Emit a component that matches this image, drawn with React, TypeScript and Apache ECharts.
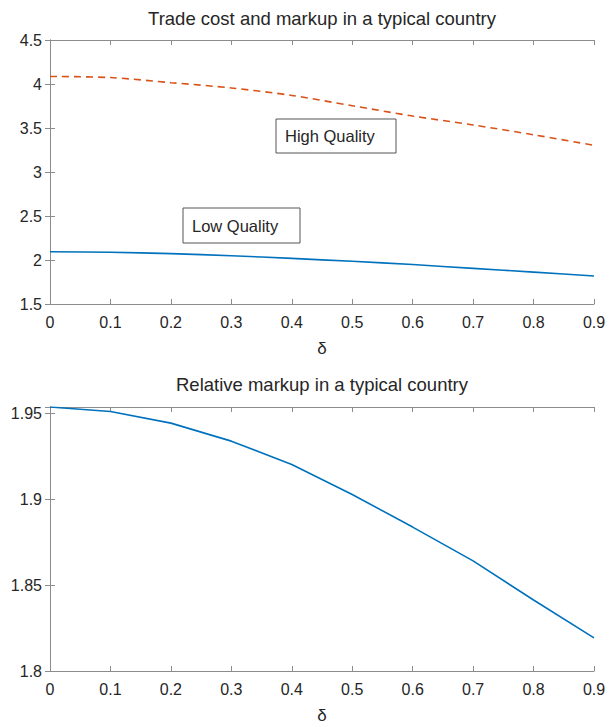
import React, { useEffect, useRef } from "react";
import * as echarts from "echarts";

const delta = [0, 0.1, 0.2, 0.3, 0.4, 0.5, 0.6, 0.7, 0.8, 0.9];
const highQuality = [4.086, 4.073, 4.015, 3.955, 3.87, 3.753, 3.636, 3.534, 3.423, 3.303];
const lowQuality = [2.094, 2.088, 2.072, 2.048, 2.018, 1.985, 1.948, 1.905, 1.862, 1.818];
const relativeMarkup = [1.9539, 1.9513, 1.9445, 1.934, 1.9204, 1.9029, 1.8839, 1.8642, 1.8414, 1.8193];

const titles = ["Trade cost and markup in a typical country", "Relative markup in a typical country"];
const xLabel = "δ";

const FONT = "'Liberation Sans', Arial, Helvetica, sans-serif";
const TEXT = "#262626";
const AXIS = "#8c8c8c";

export default function App() {
  const ref = useRef<HTMLDivElement>(null);
  useEffect(() => {
    if (!ref.current) return;
    const chart = echarts.init(ref.current, null, { renderer: "svg" });
    const pairs = (ys: number[]) => delta.map((x, i) => [x, ys[i]]);
    const grids = [
      { left: 50, top: 40, width: 544, height: 264 },
      { left: 50, top: 407, width: 544, height: 264 },
    ];
    const axisLine = { show: true, lineStyle: { color: AXIS, width: 1 } };
    const tickIn = { show: true, inside: true, length: 5, lineStyle: { color: AXIS } };
    const lbl = { color: TEXT, fontFamily: FONT, fontSize: 16 };
    const xMain = (g: number) => ({
      type: "value", gridIndex: g, min: 0, max: 0.9, interval: 0.1,
      axisLine, axisTick: tickIn, splitLine: { show: false },
      axisLabel: { ...lbl, margin: 10 },
      name: xLabel, nameLocation: "middle", nameGap: 36,
      nameTextStyle: { color: TEXT, fontFamily: FONT, fontSize: 17 },
    });
    const xTop = (g: number) => ({
      type: "value", gridIndex: g, position: "top", min: 0, max: 0.9, interval: 0.1,
      axisLine, axisTick: tickIn, axisLabel: { show: false }, splitLine: { show: false },
    });
    const fmt = (v: number) => {
      const k = v / 0.05;
      if (Math.abs(k - Math.round(k)) > 1e-6) return "";
      return String(Math.round(v * 100) / 100);
    };
    const yMain = (g: number, min: number, max: number, interval: number) => ({
      type: "value", gridIndex: g, min, max, interval, position: "left",
      axisLine, axisTick: tickIn, splitLine: { show: false },
      axisLabel: { ...lbl, margin: 8, formatter: fmt },
    });
    const yRight = (g: number, min: number, max: number, interval: number) => ({
      type: "value", gridIndex: g, min, max, interval, position: "right",
      axisLine, axisTick: tickIn, axisLabel: { show: false }, splitLine: { show: false },
    });
    const bottomMax = Math.max(...relativeMarkup);
    chart.setOption({
      animation: false,
      backgroundColor: "#ffffff",
      grid: grids,
      xAxis: [xMain(0), xTop(0), xMain(1), xTop(1)],
      yAxis: [
        yMain(0, 1.5, 4.5, 0.5), yRight(0, 1.5, 4.5, 0.5),
        yMain(1, 1.8, bottomMax, 0.05), yRight(1, 1.8, bottomMax, 0.05),
      ],
      graphic: [
        { type: "text", x: 322, y: 18, style: { text: titles[0], fill: TEXT, font: `18.5px ${FONT}`, textAlign: "center", textVerticalAlign: "middle" } },
        { type: "text", x: 322, y: 384, style: { text: titles[1], fill: TEXT, font: `18.5px ${FONT}`, textAlign: "center", textVerticalAlign: "middle" } },
        {
          type: "group", x: 276, y: 119, children: [
            { type: "rect", shape: { x: 0, y: 0, width: 120, height: 34 }, style: { fill: "#fff", stroke: "#555", lineWidth: 1 } },
            { type: "text", x: 9, y: 17, style: { text: "High Quality", fill: TEXT, font: `16.5px ${FONT}`, textVerticalAlign: "middle" } },
          ],
        },
        {
          type: "group", x: 183, y: 208, children: [
            { type: "rect", shape: { x: 0, y: 0, width: 117, height: 35 }, style: { fill: "#fff", stroke: "#555", lineWidth: 1 } },
            { type: "text", x: 9, y: 18, style: { text: "Low Quality", fill: TEXT, font: `16.5px ${FONT}`, textVerticalAlign: "middle" } },
          ],
        },
      ],
      series: [
        {
          type: "line", xAxisIndex: 0, yAxisIndex: 0, data: pairs(highQuality), showSymbol: false, smooth: 0.3,
          lineStyle: { color: "#D95319", width: 1.6, type: [7, 5] },
        },
        {
          type: "line", xAxisIndex: 0, yAxisIndex: 0, data: pairs(lowQuality), showSymbol: false, smooth: 0.3,
          lineStyle: { color: "#0072BD", width: 1.6 },
        },
        {
          type: "line", xAxisIndex: 2, yAxisIndex: 2, data: pairs(relativeMarkup), showSymbol: false,
          lineStyle: { color: "#0072BD", width: 1.6 },
        },
      ],
    });
    return () => chart.dispose();
  }, []);
  return (
    <div
      ref={ref}
      style={{ position: "fixed", left: 0, top: 0, width: 611, height: 727, background: "#fff" }}
    />
  );
}
